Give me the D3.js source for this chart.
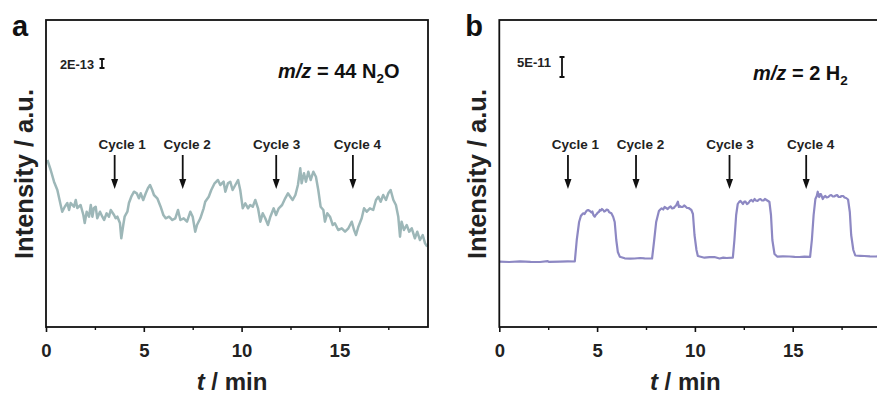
<!DOCTYPE html>
<html>
<head>
<meta charset="utf-8">
<script src="https://cdn.jsdelivr.net/npm/d3@7"></script>
<style>
  body { margin: 0; background: #fff; }
  svg { display: block; font-family: "Liberation Sans", Arial, Helvetica, sans-serif; }
</style>
</head>
<body>
<svg id="chart" width="877" height="396"></svg>
<script>
// ---- data -------------------------------------------------------------
// Panel a: m/z = 44 (N2O) ion current, arbitrary units, vs time (min)
const timeN2O = [0.07,0.24,0.41,0.58,0.75,0.83,0.96,1.09,1.18,1.26,1.43,1.52,1.60,1.77,1.91,1.98,2.08,2.20,2.29,2.37,
  2.45,2.54,2.62,2.76,2.88,2.97,3.10,3.22,3.31,3.48,3.56,3.65,3.78,3.85,3.95,4.02,4.16,4.24,4.36,4.50,
  4.64,4.75,4.84,4.97,5.10,5.21,5.32,5.43,5.52,5.69,5.86,6.00,6.12,6.29,6.46,6.61,6.75,6.87,7.04,7.21,
  7.38,7.50,7.63,7.72,7.89,8.06,8.14,8.32,8.45,8.62,8.79,8.91,9.08,9.17,9.30,9.42,9.54,9.68,9.82,9.93,
  10.06,10.19,10.33,10.44,10.57,10.70,10.84,10.96,11.08,11.21,11.35,11.47,11.64,11.76,11.90,12.07,12.23,12.37,12.49,12.61,
  12.75,12.88,13.00,13.07,13.19,13.29,13.41,13.53,13.67,13.80,13.92,14.04,14.18,14.26,14.38,14.52,14.66,14.77,14.94,15.12,
  15.29,15.46,15.63,15.75,15.85,15.97,16.14,16.26,16.40,16.56,16.73,16.87,16.99,17.11,17.24,17.38,17.50,17.62,17.76,17.89,
  18.01,18.10,18.18,18.30,18.44,18.57,18.70,18.86,18.98,19.12,19.26,19.38,19.49];
const signalN2O = [167,157,145.3,137,122,115.3,120.3,124,117,124,120.3,127,119,122,112,104,115.3,110.3,122,110.3,
  119,120.3,108.7,115.3,110.3,107,113.7,110.3,117,112,108.7,110.3,104,88.7,102,110.3,115.3,124,130.3,135.3,
  133.7,128.7,133.7,127,133.7,138.7,142,137,132,128.7,120.3,112,108.7,110.3,107,108.7,117,107,108.7,105.3,
  115.3,110.3,95.3,102,108.7,118.7,125.3,130.3,137,143.7,147,142,145.3,135.3,143.7,145.3,137,142,147,137,
  118.7,123.7,118.7,122,120.3,127,118.7,105.3,113.7,108.7,102,110.3,118.7,112,118.7,122,128.7,133.7,130.3,127,
  132,142,158.7,143.7,153.7,145.3,155.3,147,155.3,150.3,137,120.3,117,105.3,113.7,110.3,102,103.7,97,98.7,
  95.3,98.7,105.3,97,92,100.3,108.7,118.7,115.3,118.7,117,127,130.3,125.3,132,127,133.7,137,127,122,
  110.3,90.3,105.3,97,102,95.3,98.7,88.7,95.3,87,92,83.7,80.3];

// Panel b: m/z = 2 (H2) ion current, arbitrary units, vs time (min)
const timeH2 = [0,0.5,1.06,1.6,2.08,2.48,2.55,3.10,3.5,3.86,3.96,4.08,
  4.17,4.23,4.29,4.36,4.42,4.48,4.54,4.63,4.71,4.76,4.81,4.88,4.93,4.98,5.04,5.09,5.14,5.19,5.25,5.31,5.36,5.42,5.49,5.56,5.61,5.65,5.73,5.82,
  5.90,5.98,6.06,6.16,6.41,6.7,6.92,7.2,7.43,7.81,7.92,8.02,8.16,
  8.23,8.30,8.38,8.45,8.53,8.61,8.68,8.76,8.84,8.92,8.98,9.04,9.13,9.18,9.22,9.30,9.37,9.45,9.52,9.60,9.68,9.75,9.82,
  9.90,9.98,10.08,10.15,10.49,10.75,11.00,11.26,11.45,11.62,11.94,12.02,12.11,12.19,
  12.26,12.33,12.40,12.46,12.53,12.59,12.66,12.74,12.81,12.89,12.97,13.05,13.12,13.20,13.28,13.35,13.43,13.51,13.58,13.66,13.74,13.81,
  13.89,13.96,14.07,14.22,14.5,14.83,15.1,15.34,15.6,15.89,15.98,16.07,16.16,
  16.23,16.28,16.32,16.36,16.40,16.44,16.49,16.54,16.60,16.67,16.74,16.82,16.90,16.97,17.05,17.12,17.20,17.27,17.35,17.43,17.50,17.58,17.65,17.73,17.83,
  17.92,17.99,18.10,18.20,18.45,18.66,18.95,19.27,19.52];
const signalH2 = [65.3,65.0,65.7,65.2,65.0,65.8,65.1,65.3,65.6,65.5,87,105,
  111,112.5,113.7,113,115,116.5,117,116,114.5,115.5,112,110.3,112,113,114.5,115,117,116.5,118,117,115.5,116,117.5,117,115,114.5,113.7,110.3,
  105,87,75,70.3,68.7,68.3,68.5,69,68.7,68.5,87,105,116,
  117.5,118.7,117.5,120,119,118,119.5,120.5,118.5,119,120.5,121.5,125.3,120,121,120,120,121.5,120.5,119,119,118,117,
  113,92,77,71,69.3,69.8,70,68.5,69.4,69,69.3,87,112,123,
  125,126,124.5,123,125.5,125.3,123,124,126,127,125.5,128,126.5,126,127.5,128,126.5,126.5,128,127,126,125,
  112,87,73,70.3,70.6,70.5,70.1,70,70.4,70.2,87,112,128,
  131,135.3,131,130,133,133,130.5,128,130,131,129.5,130,131.5,132,130.5,130.5,131.5,132,130,130,131,131,129.5,129,127.5,
  115,92,77,71.5,71.2,71,70.6,70.5,71];

// Shared annotations
const xTicks = [0, 5, 10, 15];
const xMinorTicks = [2.5, 7.5, 12.5, 17.5];
const cycleLabels = ["Cycle 1", "Cycle 2", "Cycle 3", "Cycle 4"];
const cycleTimes = [3.51, 6.99, 11.77, 15.69];
const scaleBarLabels = ["2E-13", "5E-11"];
const scaleBarSizes = [9, 20];   // length of each scale bar, in the panel's signal units

// ---- layout -----------------------------------------------------------
const svg = d3.select("#chart");
const plotTop = 20, plotBottom = 327, plotW = 382;
const tMax = 19.53;
const labelShift = [7.5, 4.5, 0.5, 4.5];   // horizontal nudge of each cycle caption

const panels = [
  { letter: "a", left: 46, t: timeN2O, v: signalN2O, color: "#9db7b8", width: 2.5,
    species: "N", sub: "2", tail: "O", mz: "44", mzX: 278, mzY: 78,
    barText: scaleBarLabels[0], barSize: scaleBarSizes[0], barTextX: 60, barX: 102, barY: 59 },
  { letter: "b", left: 499.3, t: timeH2, v: signalH2, color: "#8d88c3", width: 2.2,
    species: "H", sub: "2", tail: "", mz: "2", mzX: 753, mzY: 80,
    barText: scaleBarLabels[1], barSize: scaleBarSizes[1], barTextX: 517, barX: 562, barY: 57 }
];

panels.forEach(p => {
  const g = svg.append("g");
  const x = d3.scaleLinear().domain([0, tMax]).range([p.left, p.left + plotW]);
  const y = d3.scaleLinear().domain([0, plotBottom - plotTop]).range([plotBottom, plotTop]);

  // signal trace
  const pts = p.t.map((t, i) => [t, p.v[i]]);
  g.append("path")
    .datum(pts)
    .attr("fill", "none")
    .attr("stroke", p.color)
    .attr("stroke-width", p.width)
    .attr("stroke-linejoin", "round")
    .attr("d", d3.line().x(d => x(d[0])).y(d => y(d[1])));

  // frame
  g.append("rect")
    .attr("x", p.left).attr("y", plotTop)
    .attr("width", plotW).attr("height", plotBottom - plotTop)
    .attr("fill", "none").attr("stroke", "#111").attr("stroke-width", 1.8);

  // x axis: major and minor ticks
  const ax = g.append("g").attr("transform", `translate(0,${plotBottom})`)
    .call(d3.axisBottom(x).tickValues(xTicks).tickSize(5).tickPadding(12).tickFormat(d3.format("d")));
  ax.select(".domain").remove();
  ax.selectAll("line").attr("stroke", "#111").attr("stroke-width", 1.6);
  ax.selectAll("text")
    .attr("fill", "#222")
    .style("font-size", "18.5px")
    .style("font-weight", "bold")
    .style("font-family", '"Liberation Sans", Arial, sans-serif');

  const axm = g.append("g").attr("transform", `translate(0,${plotBottom})`)
    .call(d3.axisBottom(x).tickValues(xMinorTicks).tickSize(3).tickFormat(""));
  axm.select(".domain").remove();
  axm.selectAll("line").attr("stroke", "#111").attr("stroke-width", 1.4);

  // axis titles
  const xt = g.append("text")
    .attr("x", x(tMax * 0.5) - 5).attr("y", 390)
    .attr("text-anchor", "middle")
    .attr("font-size", 24).attr("font-weight", "bold").attr("fill", "#222");
  xt.append("tspan").attr("font-style", "italic").text("t");
  xt.append("tspan").text(" / min");

  g.append("text")
    .attr("transform", `translate(${p.left - 13},174) rotate(-90)`)
    .attr("text-anchor", "middle")
    .attr("font-size", 25.5).attr("font-weight", "bold").attr("fill", "#222")
    .text("Intensity / a.u.");

  // panel letter
  g.append("text")
    .attr("x", p.left - 34).attr("y", 36)
    .attr("font-size", 29).attr("font-weight", "bold").attr("fill", "#111")
    .text(p.letter);

  // m/z caption
  const mz = g.append("text")
    .attr("x", p.mzX).attr("y", p.mzY)
    .attr("font-size", 20).attr("font-weight", "bold").attr("fill", "#111");
  mz.append("tspan").attr("font-style", "italic").text("m/z");
  mz.append("tspan").text(` = ${p.mz} ${p.species}`);
  mz.append("tspan").attr("font-size", 13.5).attr("dy", 5).text(p.sub);
  if (p.tail) mz.append("tspan").attr("dy", -5).text(p.tail);

  // intensity scale bar with its label
  g.append("text")
    .attr("x", p.barTextX).attr("y", p.barY + 9.5)
    .attr("font-size", 13).attr("font-weight", "bold").attr("fill", "#222")
    .attr("textLength", 34).attr("lengthAdjust", "spacingAndGlyphs")
    .text(p.barText);
  const bx = p.barX;
  const y0 = p.barY, y1 = p.barY + (y(0) - y(p.barSize));
  g.append("path")
    .attr("d", `M${bx},${y0}V${y1}M${bx - 2.5},${y0}H${bx + 2.5}M${bx - 2.5},${y1}H${bx + 2.5}`)
    .attr("stroke", "#111").attr("stroke-width", 1.8).attr("fill", "none");

  // cycle markers
  cycleTimes.forEach((t, i) => {
    const cx = x(t);
    g.append("text")
      .attr("x", cx + labelShift[i]).attr("y", 149)
      .attr("text-anchor", "middle")
      .attr("font-size", 13.5).attr("font-weight", "bold").attr("fill", "#222")
      .text(cycleLabels[i]);
    g.append("line")
      .attr("x1", cx).attr("x2", cx).attr("y1", 155).attr("y2", 181)
      .attr("stroke", "#111").attr("stroke-width", 1.8);
    g.append("path")
      .attr("d", `M${cx - 3.5},${179}L${cx + 3.5},${179}L${cx},${189}Z`)
      .attr("fill", "#111");
  });
});
</script>
</body>
</html>
